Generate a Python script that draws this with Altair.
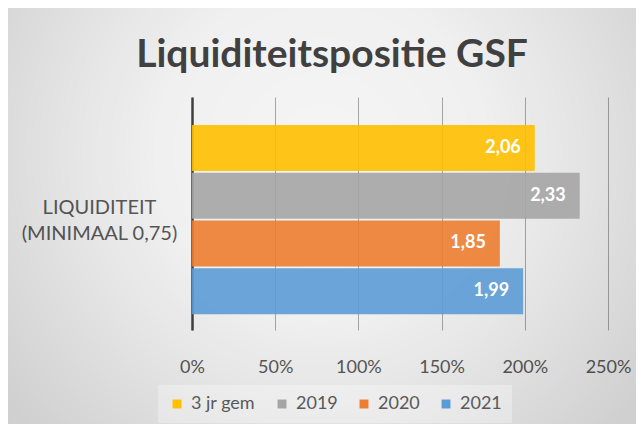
import altair as alt
import pandas as pd

# ---- data ----
category = "LIQUIDITEIT (MINIMAAL 0,75)"
series = ["3 jr gem", "2019", "2020", "2021"]
values = [2.06, 2.33, 1.85, 1.99]
colors = ["#FFC000", "#A5A5A5", "#ED7D31", "#5B9BD5"]
x_ticks = [0, 0.5, 1.0, 1.5, 2.0, 2.5]
title_text = "Liquiditeitspositie GSF"

df = pd.DataFrame({"categorie": [category] * len(series), "reeks": series, "waarde": values})

PAD_L, PAD_T, PAD_R, PAD_B = 184, 89, 28, 94
W, H = 416, 233
FONT = "Lato"
TXT = "#595959"

grad = alt.RadialGradient(
    gradient="radial", x1=0.5, y1=0.4, r1=0, x2=0.5, y2=0.4, r2=0.75,
    stops=[
        alt.GradientStop(offset=0, color="rgba(0,0,0,0)"),
        alt.GradientStop(offset=0.35, color="rgba(0,0,0,0.02)"),
        alt.GradientStop(offset=1, color="rgba(0,0,0,0.19)"),
    ],
)

bg = alt.Chart(pd.DataFrame({"achtergrond": [1]})).mark_rect(fill=grad).encode(
    x=alt.value(-PAD_L), x2=alt.value(W + PAD_R),
    y=alt.value(-PAD_T), y2=alt.value(H + PAD_B),
)

y_enc = alt.Y(
    "categorie:N", title=None,
    scale=alt.Scale(paddingOuter=0.116, paddingInner=0, align=0.64),
    axis=alt.Axis(
        domain=True, domainColor="#404040", domainWidth=2.5, ticks=False, grid=False,
        labelExpr="[substring(datum.label, 0, indexof(datum.label, ' ')), substring(datum.label, indexof(datum.label, ' ') + 1)]",
        labelAlign="center", labelBaseline="middle", labelPadding=93, labelLimit=400,
        labelFont=FONT, labelFontSize=20, labelColor=TXT, labelLineHeight=26,
        labelOffset=-12,
    ),
)
yoff = alt.YOffset("reeks:N", sort=series, scale=alt.Scale(paddingInner=0.036, paddingOuter=0))
x_enc = alt.X(
    "waarde:Q", title=None,
    scale=alt.Scale(domain=[0, 2.5], nice=False),
    axis=alt.Axis(
        values=x_ticks, format=".0%", grid=True, gridColor="#a6a6a6", gridWidth=1,
        domain=False, ticks=False, labelFont=FONT, labelFontSize=18, labelColor=TXT,
        labelPadding=28, labelFlush=False, labelOverlap=False,
    ),
)

bars = alt.Chart(df).mark_bar(opacity=0.9).encode(
    x=x_enc, y=y_enc, yOffset=yoff,
    color=alt.Color(
        "reeks:N", sort=series,
        scale=alt.Scale(domain=series, range=colors),
        legend=alt.Legend(
            title=None, orient="none", legendX=-34, legendY=288, direction="horizontal",
            symbolType="square", symbolSize=80, symbolStrokeWidth=0, symbolOpacity=1,
            labelFont=FONT, labelFontSize=18, labelColor=TXT, labelOffset=5,
            columnPadding=17, padding=10, fillColor="rgba(255,255,255,0.3)",
        ),
    ),
)

labels = alt.Chart(df).transform_calculate(
    label="replace(format(datum.waarde, '.2f'), '.', ',')"
).mark_text(
    align="right", baseline="middle", dx=-14, font=FONT, fontSize=18,
    fontWeight="bold", color="white",
).encode(x="waarde:Q", y=alt.Y("categorie:N"), yOffset=alt.YOffset("reeks:N", sort=series), text="label:N")

chart = alt.layer(bg, bars, labels).properties(
    width=W, height=H,
    padding={"left": PAD_L, "top": PAD_T, "right": PAD_R, "bottom": PAD_B},
    autosize=alt.AutoSizeParams(type="none"),
    background="#f5f5f5",
    title=alt.TitleParams(
        title_text, font=FONT, fontSize=39, fontWeight="bold", color="#404040",
        anchor="middle", baseline="alphabetic", offset=-98, dx=-68,
    ),
).configure_view(stroke=None)

chart.save("out.html", embed_options={"renderer": "svg", "actions": False})
